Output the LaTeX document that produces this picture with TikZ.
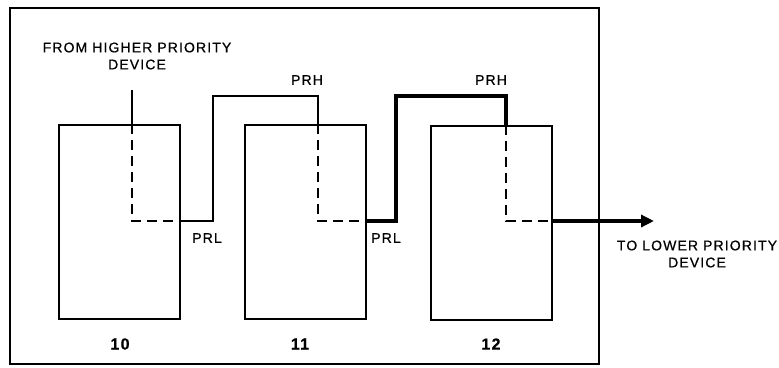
\documentclass[tikz,border=0pt]{standalone}
\usepackage{fontspec}
\setmainfont{Liberation Sans}[LetterSpace=8,FakeBold=0.6]
\usetikzlibrary{arrows.meta}
\begin{document}
\begin{tikzpicture}[x=1pt,y=-1pt,
  device/.style={draw,line width=2pt,inner sep=0pt,minimum width=121pt,minimum height=194pt},
  thin/.style={line width=1.2pt},
  thick/.style={line width=3.4pt},
  internal/.style={line width=1.5pt,dash pattern=on 10pt off 6pt},
  lbl/.style={font=\fontsize{14pt}{17pt}\selectfont,align=center,inner sep=0pt},
  num/.style={font=\fontsize{16pt}{18pt}\selectfont\bfseries,inner sep=0pt}]
\useasboundingbox (0,0) rectangle (779,367);
% enclosure
\draw[line width=2pt] (10,8) rectangle (599,364);
% the three devices
\node[device] (b10) at (119,221.5) {};
\node[device] (b11) at (305.5,222) {};
\node[device] (b12) at (491,222.5) {};
% device numbers
\node[num] (n10) at (120,344) {10};
\node[num] (n11) at (300,344) {11};
\node[num] (n12) at (491,344) {12};
% priority chain points
\coordinate (in)  at (132,90);
\coordinate (t10) at (in |- b10.north);
\coordinate (c10) at (132,221);
\coordinate (o10) at (b10.east |- c10);
\coordinate (a1)  at (213,221);
\coordinate (a2)  at (213,96);
\coordinate (a3)  at (318,96);
\coordinate (t11) at (a3 |- b11.north);
\coordinate (c11) at (318,221);
\coordinate (o11) at (b11.east |- c11);
\coordinate (d1)  at (396,221);
\coordinate (d2)  at (396,96);
\coordinate (d3)  at (506,96);
\coordinate (t12) at (d3 |- b12.north);
\coordinate (c12) at (506,221);
\coordinate (o12) at (b12.east |- c12);
\coordinate (out) at (654,221);
% internal paths (dashed)
\draw[internal] (t10) -- (c10) -- (o10);
\draw[internal] (t11) -- (c11) -- (o11);
\draw[internal] (t12) -- (c12) -- (o12);
% external links
\draw[thin] (in) -- (t10);
\draw[thin,line join=miter] (o10) -- (a1) -- (a2) -- (a3) -- (t11);
\draw[thick,line join=miter] (o11) -- (d1) -- (d2) -- (d3) -- (t12);
\draw[thick,-{Triangle[length=13pt,width=12pt]}] (o12) -- (out);
% signal labels
\node[lbl] (from) at (137,56) {FROM HIGHER PRIORITY\\DEVICE};
\node[lbl] (prh1) at (307,80) {PRH};
\node[lbl] (prh2) at (491,80) {PRH};
\node[lbl] (prl1) at (207,238) {PRL};
\node[lbl] (prl2) at (386,238) {PRL};
\node[lbl] (to) at (697,254) {TO LOWER PRIORITY\\DEVICE};
\end{tikzpicture}
\end{document}
